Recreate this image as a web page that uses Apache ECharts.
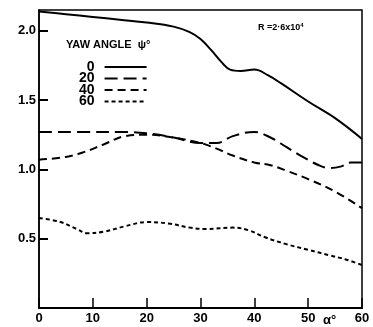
<!DOCTYPE html>
<html>
<head>
<meta charset="utf-8">
<script src="https://cdn.jsdelivr.net/npm/echarts@6/dist/echarts.min.js"></script>
<style>
html, body { margin: 0; padding: 0; background: #fff; }
#chart { width: 373px; height: 327px; }
</style>
</head>
<body>
<div id="chart"></div>
<script>
// yaw angles (legend)
var yawAngles = ['0', '20', '40', '60'];

// [alpha, value]
var yaw0 = [[0, 2.14], [5, 2.12], [10, 2.10], [15, 2.08], [20, 2.06], [25, 2.03], [28, 1.99], [30, 1.94],
    [32, 1.86], [34, 1.77], [35.5, 1.72], [37.5, 1.71], [40, 1.72], [42.5, 1.68], [45, 1.62], [50, 1.49],
    [55, 1.37], [60, 1.22]];
var yaw20 = [[0, 1.27], [10, 1.27], [15, 1.27], [20, 1.26], [25, 1.23], [30, 1.19], [33, 1.19], [36, 1.24],
    [40, 1.27], [43, 1.23], [46, 1.16], [49, 1.09], [52, 1.03], [54, 1.01], [56, 1.02], [58, 1.05], [60, 1.05]];
var yaw40 = [[0, 1.07], [5, 1.09], [8, 1.12], [12, 1.18], [16, 1.24], [20, 1.25], [25, 1.23], [30, 1.19],
    [33, 1.15], [36, 1.10], [40, 1.05], [43, 1.03], [46, 0.99], [50, 0.93], [55, 0.84], [60, 0.72]];
var yaw60 = [[0, 0.65], [4, 0.62], [7, 0.57], [9, 0.54], [12, 0.55], [16, 0.59], [20, 0.62], [24, 0.61],
    [28, 0.58], [31, 0.57], [36, 0.58], [39, 0.56], [42, 0.51], [46, 0.46], [50, 0.42], [54, 0.38],
    [57, 0.35], [60, 0.31]];

var xTicks = [0, 10, 20, 30, 40, 50, 60];
var yLabels = [0.5, 1.0, 1.5, 2.0];

var curves = [yaw0, yaw20, yaw40, yaw60];
var dashes = ['solid', [13, 6], [8, 5], [4, 3]];

var font = 'Liberation Sans';
var myChart = echarts.init(document.getElementById('chart'));

var series = curves.map(function (d, i) {
    return {
        name: yawAngles[i],
        type: 'line',
        data: d,
        smooth: 0.4,
        symbol: 'none',
        lineStyle: { color: '#000', width: 2, type: dashes[i] },
        itemStyle: { color: '#000' }
    };
});

option = {
    backgroundColor: '#fff',
    animation: false,
    grid: {
        left: 39, right: 11, top: 10, bottom: 19,
        show: true, borderColor: '#000', borderWidth: 1.5
    },
    legend: {
        data: yawAngles,
        orient: 'vertical',
        left: 74,
        top: 55,
        align: 'right',
        itemWidth: 42,
        itemHeight: 8,
        itemGap: -2.5,
        itemStyle: { opacity: 0 },
        lineStyle: { width: 2 },
        textStyle: {
            fontFamily: font, fontWeight: 'bold', fontSize: 14, color: '#000',
            width: 20, align: 'right', padding: [0, 5, 0, 0]
        }
    },
    xAxis: {
        type: 'value',
        min: 0, max: 60, interval: 10,
        axisLine: { lineStyle: { color: '#000', width: 2 } },
        axisTick: { inside: true, length: 10, lineStyle: { color: '#000', width: 1.5 } },
        splitLine: { show: false },
        axisLabel: {
            color: '#000', fontFamily: font, fontWeight: 'bold', fontSize: 13, margin: 4,
            formatter: function (v) { return xTicks.indexOf(v) >= 0 ? String(v) : ''; }
        }
    },
    yAxis: {
        type: 'value',
        min: 0, max: 2.15, interval: 0.5,
        axisLine: { lineStyle: { color: '#000', width: 1.5 } },
        axisTick: { inside: true, length: 9, lineStyle: { color: '#000', width: 2 } },
        splitLine: { show: false },
        axisLabel: {
            color: '#000', fontFamily: font, fontWeight: 'bold', fontSize: 13, margin: 3,
            showMaxLabel: false,
            formatter: function (v) { return yLabels.indexOf(v) >= 0 ? v.toFixed(1) : ''; }
        }
    },
    graphic: [
        {
            type: 'text', left: 66, top: 39,
            style: { text: 'YAW ANGLE  ψ°', fontFamily: font, fontWeight: 'bold', fontSize: 11, fill: '#000' }
        },
        {
            type: 'text', left: 258, top: 22,
            style: {
                text: 'R =2·6x10{s|4}',
                fontFamily: font, fontWeight: 'bold', fontSize: 9, fill: '#000',
                rich: { s: { fontSize: 6, fontWeight: 'bold', verticalAlign: 'top', padding: [0, 0, 5, 0] } }
            }
        },
        {
            type: 'text', left: 323, top: 314,
            style: { text: 'α°', fontFamily: font, fontWeight: 'bold', fontSize: 13, fill: '#000' }
        }
    ],
    series: series
};
myChart.setOption(option);
</script>
</body>
</html>
